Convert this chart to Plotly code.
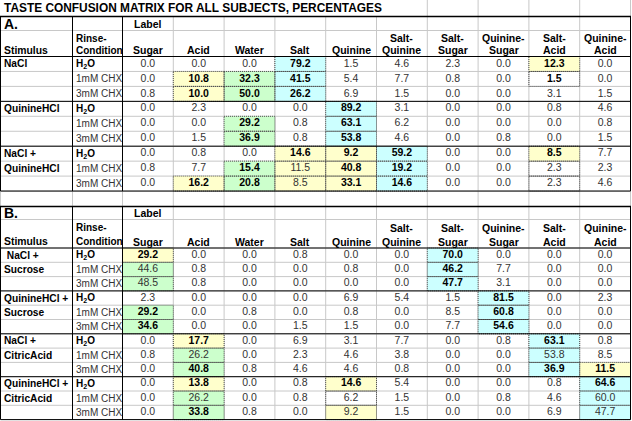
import plotly.graph_objects as go

# ---------------- data ----------------
title = "TASTE CONFUSION MATRIX FOR ALL SUBJECTS, PERCENTAGES"
label_cols = ["Sugar", "Acid", "Water", "Salt", "Quinine", "Salt-Quinine",
              "Salt-Sugar", "Quinine-Sugar", "Salt-Acid", "Quinine-Acid"]
rinse_conditions = ["H<sub>2</sub>O", "1mM CHX", "3mM CHX"]

stimulus_a = ["NaCl", "", "", "QuinineHCl", "", "", "NaCl +", "QuinineHCl", ""]
stimulus_b = ["\u00a0NaCl +", "Sucrose", "", "QuinineHCl +", "Sucrose", "",
              "NaCl +", "CitricAcid", "", "QuinineHCl +", "CitricAcid", ""]

values_a = [
    [0.0, 0.0, 0.0, 79.2, 1.5, 4.6, 2.3, 0.0, 12.3, 0.0],
    [0.0, 10.8, 32.3, 41.5, 5.4, 7.7, 0.8, 0.0, 1.5, 0.0],
    [0.8, 10.0, 50.0, 26.2, 6.9, 1.5, 0.0, 0.0, 3.1, 1.5],
    [0.0, 2.3, 0.0, 0.0, 89.2, 3.1, 0.0, 0.0, 0.8, 4.6],
    [0.0, 0.0, 29.2, 0.8, 63.1, 6.2, 0.0, 0.0, 0.0, 0.8],
    [0.0, 1.5, 36.9, 0.8, 53.8, 4.6, 0.0, 0.8, 0.0, 1.5],
    [0.0, 0.8, 0.0, 14.6, 9.2, 59.2, 0.0, 0.0, 8.5, 7.7],
    [0.8, 7.7, 15.4, 11.5, 40.8, 19.2, 0.0, 0.0, 2.3, 2.3],
    [0.0, 16.2, 20.8, 8.5, 33.1, 14.6, 0.0, 0.0, 2.3, 4.6],
]
values_b = [
    [29.2, 0.0, 0.0, 0.8, 0.0, 0.0, 70.0, 0.0, 0.0, 0.0],
    [44.6, 0.8, 0.0, 0.0, 0.8, 0.0, 46.2, 7.7, 0.0, 0.0],
    [48.5, 0.8, 0.0, 0.0, 0.0, 0.0, 47.7, 3.1, 0.0, 0.0],
    [2.3, 0.0, 0.0, 0.0, 6.9, 5.4, 1.5, 81.5, 0.0, 2.3],
    [29.2, 0.0, 0.8, 0.0, 0.8, 0.0, 8.5, 60.8, 0.0, 0.0],
    [34.6, 0.0, 0.0, 1.5, 1.5, 0.0, 7.7, 54.6, 0.0, 0.0],
    [0.0, 17.7, 0.0, 6.9, 3.1, 7.7, 0.0, 0.8, 63.1, 0.8],
    [0.8, 26.2, 0.0, 2.3, 4.6, 3.8, 0.0, 0.0, 53.8, 8.5],
    [0.0, 40.8, 0.8, 4.6, 4.6, 0.8, 0.0, 0.0, 36.9, 11.5],
    [0.0, 13.8, 0.0, 0.8, 14.6, 5.4, 0.0, 0.0, 0.8, 64.6],
    [0.0, 26.2, 0.0, 0.8, 6.2, 1.5, 0.0, 0.8, 4.6, 60.0],
    [0.0, 33.8, 0.8, 0.0, 9.2, 1.5, 0.0, 0.0, 6.9, 47.7],
]

# highlight class per cell: y=yellow, g=green, c=cyan, w=boxed only, .=none
highlight_a = ["...c....y.", ".ygc....w.", ".ygc......",
               "....c.....", "..g.c.....", "..g.c.....",
               "...yyc..y.", "..gyyc..w.", ".ygyyc..w."]
bold_a = ["...b....b.", ".bbb....b.", ".bbb......",
          "....b.....", "..b.b.....", "..b.b.....",
          "...bbb..b.", "..b.bb....", ".bb.bb...."]
highlight_b = ["y.....c...", "g.....c...", "g.....c...",
               ".......c..", "g......c..", "g......c..",
               ".y......c.", ".g......c.", ".g......cy",
               ".y..y....c", ".g..w....c", ".g..y....c"]
bold_b = ["b.....b...", "......b...", "......b...",
          ".......b..", "b......b..", "b......b..",
          ".b......b.", "..........", ".b......bb",
          ".b..b....b", "..........", ".b........"]

# ---------------- layout geometry ----------------
W, H = 632, 421
col_edges = [0.5, 72.5, 122.5] + [122.5 + 50.8 * (i + 1) for i in range(10)]
sections = [
    dict(letter="A.", top=16.5, hdr=30.5, data=56.5, rh=14.95,
         stim=stimulus_a, vals=values_a, hl=highlight_a, bold=bold_a),
    dict(letter="B.", top=206.5, hdr=219.5, data=248.0, rh=14.3,
         stim=stimulus_b, vals=values_b, hl=highlight_b, bold=bold_b),
]
FILL = {"y": "#FFFFCC", "g": "#CCFFCC", "c": "#CCFFFF"}
GRID = "#C8C8C8"
FONT = "Liberation Sans, Arial, sans-serif"
FS = 10.5      # numbers and column headers
FS_LBL = 10.0  # stimulus / rinse columns

shapes_grid, shapes_fill, shapes_dot, shapes_black = [], [], [], []
annotations = []


def seg(lst, x0, y0, x1, y1, color, width=1, layer="above"):
    lst.append(dict(type="line", xref="x", yref="y", x0=x0, y0=y0, x1=x1, y1=y1,
                    line=dict(color=color, width=width), layer=layer))


def ann(text, x, y, xanchor="left", size=FS, bold=False, color="#000"):
    annotations.append(dict(text=text, x=x, y=y, xref="x", yref="y",
                            xanchor=xanchor, yanchor="middle", showarrow=False,
                            font=dict(family=FONT, size=size, color=color,
                                      weight="bold" if bold else "normal")))


# title row
ann(title, 2, 8, size=11.9, bold=True)
for x in col_edges:
    if x > 400:
        seg(shapes_grid, x, 0, x, 16.5, GRID, layer="below")

# blank row between sections
a_bottom = sections[0]["data"] + len(values_a) * sections[0]["rh"]
for x in col_edges:
    seg(shapes_grid, x, a_bottom, x, sections[1]["top"], GRID, layer="below")

reg_x, reg_y, reg_t = [], [], []
bld_x, bld_y, bld_t = [], [], []
right = col_edges[-1]

for s in sections:
    n = len(s["vals"])
    bottom = s["data"] + n * s["rh"]
    row_edges = [s["data"] + i * s["rh"] for i in range(n + 1)]
    # grey gridlines
    for x in col_edges:
        seg(shapes_grid, x, s["top"], x, bottom, GRID, layer="below")
    for y in [s["hdr"]] + row_edges:
        seg(shapes_grid, col_edges[0], y, right, y, GRID, layer="below")
    # header texts
    ann(s["letter"], 1.5, (s["top"] + s["hdr"]) / 2, size=14, bold=True)
    ann("Label", (col_edges[2] + col_edges[3]) / 2, (s["top"] + s["hdr"]) / 2,
        xanchor="center", bold=True)
    l1 = s["data"] - 1.5 * (s["data"] - s["hdr"]) / 2 + 1
    l2 = s["data"] - 6.5
    ann("Stimulus", 1.5, l2, size=10.4, bold=True)
    ann("Rinse-", col_edges[1] + 1, l1, size=FS_LBL, bold=True)
    ann("Condition", col_edges[1] + 1, l2, size=FS_LBL, bold=True)
    for c, name in enumerate(label_cols):
        xc = (col_edges[c + 2] + col_edges[c + 3]) / 2
        parts = name.split("-")
        if len(parts) == 2:
            ann(parts[0] + "-", xc, l1, xanchor="center", bold=True)
            ann(parts[1], xc, l2, xanchor="center", bold=True)
        else:
            ann(name, xc, l2, xanchor="center", bold=True)
    # data rows
    for r in range(n):
        y0, y1 = row_edges[r], row_edges[r + 1]
        yc = (y0 + y1) / 2
        if s["stim"][r]:
            ann(s["stim"][r], 1.5, yc, size=10.2, bold=True)
        rc = rinse_conditions[r % 3]
        ann(rc, col_edges[1] + 1, yc, size=FS_LBL, bold=(r % 3 == 0),
            color="#000" if r % 3 == 0 else "#333")
        for c in range(10):
            xa, xb = col_edges[c + 2], col_edges[c + 3]
            xc = (xa + xb) / 2
            h = s["hl"][r][c]
            if h in FILL:
                shapes_fill.append(dict(type="rect", xref="x", yref="y",
                                        x0=xa, x1=xb, y0=y0, y1=y1,
                                        fillcolor=FILL[h], line=dict(width=0),
                                        layer="below"))
            if h != ".":
                shapes_dot.append(dict(type="rect", xref="x", yref="y",
                                       x0=xa, x1=xb, y0=y0, y1=y1,
                                       fillcolor="rgba(0,0,0,0)",
                                       line=dict(color="#444", width=1, dash="1px,1px"),
                                       layer="above"))
            txt = f"{s['vals'][r][c]:.1f}"
            if s["bold"][r][c] == "b":
                bld_x.append(xc); bld_y.append(yc); bld_t.append(txt)
            else:
                reg_x.append(xc); reg_y.append(yc); reg_t.append(txt)
    # black borders
    seg(shapes_black, col_edges[0] - 0.5, s["top"], right + 0.5, s["top"], "#000", 1.5)
    for y in [s["data"]] + [row_edges[i] for i in range(3, n, 3)] + [bottom]:
        seg(shapes_black, col_edges[0], y, right, y, "#000", 1)
    for x in [col_edges[0], col_edges[1], col_edges[2], right]:
        seg(shapes_black, x, s["top"], x, bottom, "#000", 1)

fig = go.Figure()
fig.add_trace(go.Scatter(x=reg_x, y=reg_y, text=reg_t, mode="text",
                         textposition="middle center",
                         textfont=dict(family=FONT, size=FS, color="#333"),
                         hoverinfo="skip", showlegend=False))
fig.add_trace(go.Scatter(x=bld_x, y=bld_y, text=bld_t, mode="text",
                         textposition="middle center",
                         textfont=dict(family=FONT, size=FS, color="#000", weight="bold"),
                         hoverinfo="skip", showlegend=False))

fig.update_layout(
    width=W, height=H,
    margin=dict(l=0, r=0, t=0, b=0),
    paper_bgcolor="white", plot_bgcolor="white",
    xaxis=dict(range=[0, W], visible=False, fixedrange=True),
    yaxis=dict(range=[H, 0], visible=False, fixedrange=True),
    shapes=shapes_grid + shapes_fill + shapes_dot + shapes_black,
    annotations=annotations,
    showlegend=False,
)
fig.write_html("out.html", config={"displayModeBar": False},
               post_script="document.body.style.margin='0';document.body.style.overflow='hidden';")
